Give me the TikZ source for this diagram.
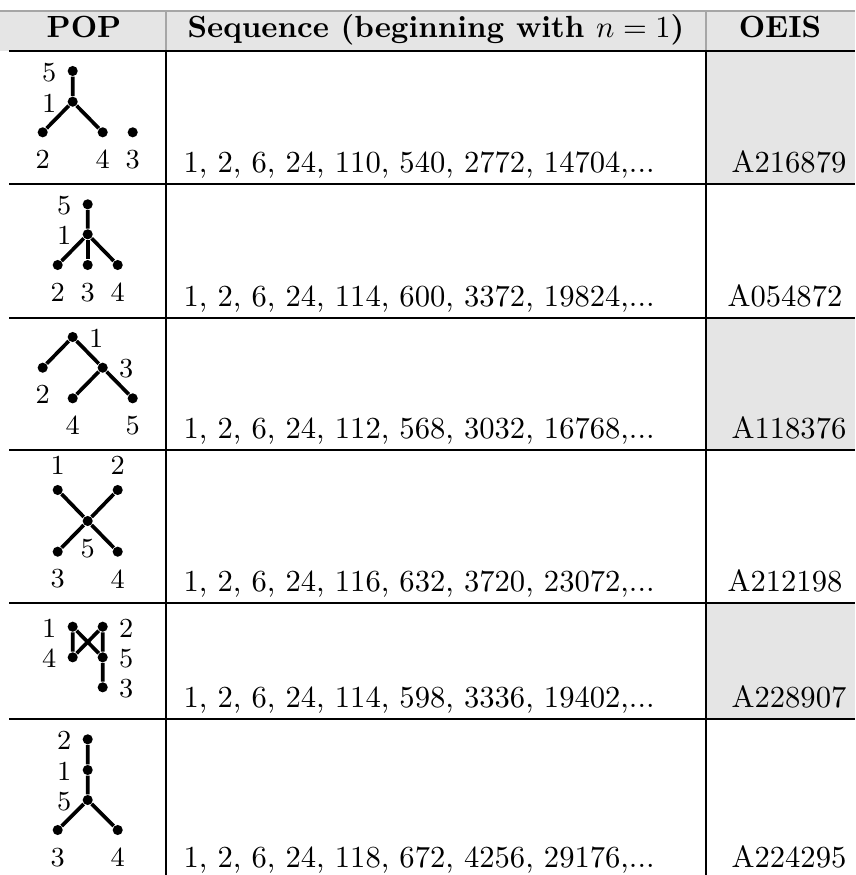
\documentclass[tikz,border=0pt]{standalone}
\usepackage{amsmath}
\usepackage{tikz}

\begin{document}
\begin{tikzpicture}[x=0.3268pt,y=-0.3268pt,
  vtx/.style={circle,fill=black,inner sep=0pt,minimum size=3.3pt},
  edg/.style={line width=1.2pt},
  every label/.style={font=\small,yshift=-0.4pt},
  rule/.style={line width=0.5pt},
  shade/.style={fill=gray!20},
  seq/.style={anchor=base west,inner sep=0pt},
  oeis/.style={anchor=base east,inner sep=0pt}]
\useasboundingbox (0,0) rectangle (855,875);
% shaded cells
\fill[shade] (0,11) rectangle (855,51);
\fill[shade] (706,51) rectangle (855,184);
\fill[shade] (706,318) rectangle (855,450);
\fill[shade] (706,603) rectangle (855,719);
% rules
\draw[rule, color=gray!70] (0,11) -- (855,11);
\draw[rule, color=gray!70] (166,11) -- (166,51);
\draw[rule, color=gray!70] (706,11) -- (706,51);
\draw[rule] (9,51) -- (855,51);
\draw[rule] (9,184) -- (855,184);
\draw[rule] (9,318) -- (855,318);
\draw[rule] (9,450) -- (855,450);
\draw[rule] (9,603) -- (855,603);
\draw[rule] (9,719) -- (855,719);
\draw[rule] (166,51) -- (166,875);
\draw[rule] (706,51) -- (706,875);
% header
\node[anchor=base] (hpop) at (84,37.7) {\textbf{POP}};
\node[anchor=base] (hseq) at (436,37.7) {\textbf{Sequence (beginning with $n=1$)}};
\node[anchor=base] (hoeis) at (780,37.7) {\textbf{OEIS}};

% row 1
\node[vtx,label=left:5] (a5) at (72.7,71) {};
\node[vtx,label=left:1] (a1) at (72.7,101.7) {};
\node[vtx,label=below:2] (a2) at (42.7,132.3) {};
\node[vtx,label=below:4] (a4) at (102.7,132.3) {};
\node[vtx,label=below:3] (a3) at (132.7,132.3) {};
\draw[edg] (a5) -- (a1) -- (a2);
\draw[edg] (a1) -- (a4);
\node[seq] (s1) at (183,172.6) {1, 2, 6, 24, 110, 540, 2772, 14704,...};
\node[oeis] (o1) at (847,172.6) {A216879};

% row 2
\node[vtx,label=left:5] (b5) at (87.7,204.3) {};
\node[vtx,label=left:1] (b1) at (87.7,234.3) {};
\node[vtx,label=below:2] (b2) at (57.7,265) {};
\node[vtx,label=below:3] (b3) at (87.7,265) {};
\node[vtx,label=below:4] (b4) at (117.7,265) {};
\draw[edg] (b5) -- (b1) -- (b2);
\draw[edg] (b1) -- (b3);
\draw[edg] (b1) -- (b4);
\node[seq] (s2) at (183,306.4) {1, 2, 6, 24, 114, 600, 3372, 19824,...};
\node[oeis] (o2) at (843,306.4) {A054872};

% row 3
\node[vtx,label=right:1] (c1) at (72.7,337) {};
\node[vtx,label=below:2] (c2) at (42.7,367.7) {};
\node[vtx,label=right:3] (c3) at (102.7,367.7) {};
\node[vtx,label=below:4] (c4) at (72.7,398.3) {};
\node[vtx,label=below:5] (c5) at (132.7,398.3) {};
\draw[edg] (c2) -- (c1) -- (c3) -- (c5);
\draw[edg] (c3) -- (c4);
\node[seq] (s3) at (183,438.4) {1, 2, 6, 24, 112, 568, 3032, 16768,...};
\node[oeis] (o3) at (847,438.4) {A118376};

% row 4
\node[vtx,label=above:1] (d1) at (57.7,490) {};
\node[vtx,label=above:2] (d2) at (117.7,490) {};
\node[vtx,label=below:5] (d5) at (87.7,521) {};
\node[vtx,label=below:3] (d3) at (57.7,551.7) {};
\node[vtx,label=below:4] (d4) at (117.7,551.7) {};
\draw[edg] (d1) -- (d5) -- (d4);
\draw[edg] (d2) -- (d5) -- (d3);
\node[seq] (s4) at (183,591.4) {1, 2, 6, 24, 116, 632, 3720, 23072,...};
\node[oeis] (o4) at (843,591.4) {A212198};

% row 5
\node[vtx,label=left:1] (e1) at (72.7,626.7) {};
\node[vtx,label=right:2] (e2) at (102.7,626.7) {};
\node[vtx,label=left:4] (e4) at (72.7,657.3) {};
\node[vtx,label=right:5] (e5) at (102.7,657.3) {};
\node[vtx,label=right:3] (e3) at (102.7,687.3) {};
\draw[edg] (e1) -- (e4) -- (e2) -- (e5) -- (e3);
\draw[edg] (e1) -- (e5);
\node[seq] (s5) at (183,707.4) {1, 2, 6, 24, 114, 598, 3336, 19402,...};
\node[oeis] (o5) at (847,707.4) {A228907};

% row 6
\node[vtx,label=left:2] (f2) at (87.7,739.3) {};
\node[vtx,label=left:1] (f1) at (87.7,770) {};
\node[vtx,label=left:5] (f5) at (87.7,800) {};
\node[vtx,label=below:3] (f3) at (57.7,830) {};
\node[vtx,label=below:4] (f4) at (117.7,830) {};
\draw[edg] (f2) -- (f1) -- (f5) -- (f3);
\draw[edg] (f5) -- (f4);
\node[seq] (s6) at (183,867.6) {1, 2, 6, 24, 118, 672, 4256, 29176,...};
\node[oeis] (o6) at (847,867.6) {A224295};
\end{tikzpicture}
\end{document}
